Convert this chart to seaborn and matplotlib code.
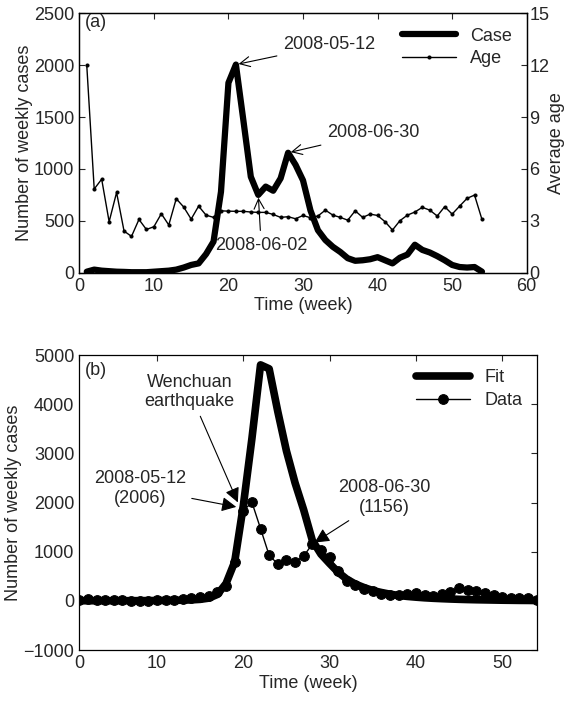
import numpy as np
import pandas as pd
import matplotlib
matplotlib.use('Agg')
import matplotlib.pyplot as plt
import seaborn as sns

# weekly data
weeks = list(range(1, 55))
cases = [10, 30, 20, 15, 10, 8, 5, 5, 5, 10, 15, 20, 30, 50, 75, 90, 180, 300, 780, 1830,
         2006, 1470, 925, 750, 830, 790, 910, 1156, 1040, 890, 600, 410, 315, 250, 200, 140, 115,
         120, 130, 150, 120, 90, 145, 175, 270, 220, 195, 160, 120, 75, 55, 50, 55, 10]
avg_age = [12.0, 4.84, 5.41, 2.95, 4.64, 2.41, 2.10, 3.08, 2.50, 2.66, 3.41, 2.76, 4.28, 3.80,
           3.10, 3.85, 3.33, 3.20, 3.58, 3.56, 3.55, 3.55, 3.51, 3.49, 3.49, 3.37, 3.20, 3.24,
           3.12, 3.31, 3.18, 3.28, 3.62, 3.33, 3.20, 3.04, 3.58, 3.20, 3.39, 3.31, 2.95, 2.47,
           3.01, 3.33, 3.51, 3.78, 3.62, 3.28, 3.82, 3.39, 3.85, 4.30, 4.49, 3.08]
fit = [2, 2, 2, 2, 2, 3, 3, 4, 5, 6, 8, 10, 14, 20, 30, 55, 130, 350, 790, 1930,
       3300, 4800, 4720, 3850, 3050, 2400, 1850, 1230, 950, 760, 580, 440, 340, 270, 210, 170,
       135, 110, 90, 75, 62, 52, 44, 37, 31, 26, 22, 19, 16, 13, 11, 9, 8, 6]

df = pd.DataFrame({'week': weeks, 'cases': cases, 'age': avg_age, 'fit': fit})

sns.set_style('white')
plt.rcParams['font.family'] = ['Liberation Sans', 'DejaVu Sans']
plt.rcParams['font.size'] = 13
plt.rcParams['xtick.direction'] = 'in'
plt.rcParams['ytick.direction'] = 'in'
plt.rcParams['axes.edgecolor'] = 'black'
plt.rcParams['axes.linewidth'] = 0.9

fig = plt.figure(figsize=(5.64, 7.04), dpi=100)

# ---- panel (a)
ax1 = fig.add_axes([0.1406, 0.6126, 0.7933, 0.3685])
sns.lineplot(data=df, x='week', y='cases', ax=ax1, color='black', lw=4.5, label='Case', legend=False)
ax2 = ax1.twinx()
sns.lineplot(data=df, x='week', y='age', ax=ax2, color='black', lw=1.0, marker='o',
             markersize=2.2, markeredgecolor='black', label='Age', legend=False)
ax1.set_xlim(0, 60)
ax1.set_ylim(0, 2500)
ax2.set_ylim(0, 15)
ax1.set_xticks(range(0, 61, 10))
ax1.set_yticks(range(0, 2501, 500))
ax2.set_yticks(range(0, 16, 3))
ax1.tick_params(axis='x', top=True, length=4, labelsize=13)
ax1.tick_params(axis='y', length=4, labelsize=13)
ax2.tick_params(axis='y', length=4, labelsize=13, pad=2)
ax1.set_xlabel('Time (week)', fontsize=13, labelpad=2)
ax1.set_ylabel('Number of weekly cases', fontsize=13, labelpad=1)
ax2.set_ylabel('Average age', fontsize=13, labelpad=-1)
ax1.text(0.012, 0.965, '(a)', transform=ax1.transAxes, fontsize=13, va='center', ha='left')

h1, l1 = ax1.get_legend_handles_labels()
h2, l2 = ax2.get_legend_handles_labels()
ax2.legend(h1 + h2, l1 + l2, loc='upper right', frameon=False, fontsize=13,
           handlelength=3.0, borderaxespad=0.4, labelspacing=0.3)

thin = dict(arrowstyle='->', color='black', lw=0.8, mutation_scale=18)
ax1.annotate('2008-05-12', xy=(21, 2006), xytext=(27.3, 2195), fontsize=13,
             va='center', ha='left', arrowprops=thin)
ax1.annotate('2008-06-30', xy=(28, 1156), xytext=(33.2, 1347), fontsize=13,
             va='center', ha='left', arrowprops=thin)
ax1.annotate('2008-06-02', xy=(24, 750), xytext=(18.2, 267), fontsize=13,
             va='center', ha='left', arrowprops=thin)

# ---- panel (b)
ax3 = fig.add_axes([0.1406, 0.0767, 0.811, 0.419])
sns.lineplot(data=df, x='week', y='fit', ax=ax3, color='black', lw=5.5, label='Fit', legend=False)
sns.lineplot(data=df, x='week', y='cases', ax=ax3, color='black', lw=1.0, marker='o',
             markersize=7, markeredgecolor='black', label='Data', legend=False)
ax3.set_xlim(1, 54)
ax3.set_ylim(-1000, 5000)
ax3.set_xticks([1, 10, 20, 30, 40, 50], ['0', '10', '20', '30', '40', '50'])
ax3.set_yticks(range(-1000, 5001, 1000))
ax3.tick_params(axis='both', top=True, right=True, length=4, labelsize=13)
ax3.set_xlabel('Time (week)', fontsize=13, labelpad=2)
ax3.set_ylabel('Number of weekly cases', fontsize=13, labelpad=1)
ax3.text(0.012, 0.949, '(b)', transform=ax3.transAxes, fontsize=13, va='center', ha='left')
ax3.legend(loc='upper right', frameon=False, fontsize=13, handlelength=3.0,
           borderaxespad=0.4, labelspacing=0.3)

solid = dict(arrowstyle='-|>', color='black', lw=0.8, mutation_scale=22)
ax3.annotate('Wenchuan\nearthquake', xy=(19.5, 1950), xytext=(13.8, 4245), fontsize=13,
             va='center', ha='center', arrowprops=solid)
ax3.annotate('2008-05-12\n(2006)', xy=(19.5, 1900), xytext=(8.0, 2286), fontsize=13,
             va='center', ha='center', arrowprops=solid)
ax3.annotate('2008-06-30\n(1156)', xy=(28, 1156), xytext=(36.4, 2100), fontsize=13,
             va='center', ha='center', arrowprops=solid)

fig.savefig('out.png', dpi=100)
